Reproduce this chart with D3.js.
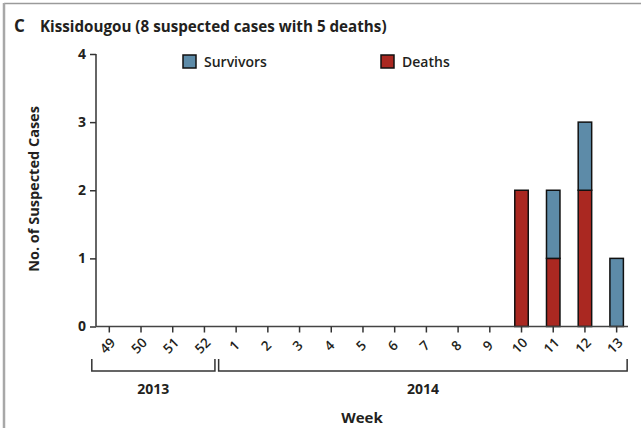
<!DOCTYPE html>
<html>
<head>
<meta charset="utf-8">
<script src="https://cdn.jsdelivr.net/npm/d3@7"></script>
<style>
  html, body { margin: 0; padding: 0; background: #fff; }
  svg { display: block; font-family: "Open Sans", "Noto Sans", sans-serif; }
</style>
</head>
<body>
<svg id="chart" width="641" height="428"></svg>
<script>
// Weekly suspected cases in Kissidougou, split by outcome
const weeks = ["49", "50", "51", "52", "1", "2", "3", "4", "5", "6", "7", "8", "9", "10", "11", "12", "13"];
const years = ["2013", "2013", "2013", "2013", "2014", "2014", "2014", "2014", "2014", "2014", "2014", "2014", "2014", "2014", "2014", "2014", "2014"];
const deaths    = [0, 0, 0, 0, 0, 0, 0, 0, 0, 0, 0, 0, 0, 2, 1, 2, 0];
const survivors = [0, 0, 0, 0, 0, 0, 0, 0, 0, 0, 0, 0, 0, 0, 1, 1, 1];
const seriesKeys = ["deaths", "survivors"];
const seriesNames = { survivors: "Survivors", deaths: "Deaths" };
const yTicks = [0, 1, 2, 3, 4];

const colors = { survivors: "#5d8ba8", deaths: "#aa2821" };
const ink = "#231f20";

const svg = d3.select("#chart");

// frame lines at top and left
svg.append("line").attr("x1", 4).attr("x2", 641).attr("y1", 3.5).attr("y2", 3.5)
  .attr("stroke", "#9a9a9a").attr("stroke-width", 1.5);
svg.append("line").attr("x1", 4).attr("x2", 4).attr("y1", 3).attr("y2", 428)
  .attr("stroke", "#a8a8a8").attr("stroke-width", 2.5);

// title
svg.append("text").attr("x", 14).attr("y", 32)
  .attr("font-size", 17).attr("font-weight", 700).attr("fill", ink).text("C");
svg.append("text").attr("x", 40).attr("y", 32)
  .attr("font-size", 15.2).attr("font-weight", 700).attr("fill", ink)
  .text("Kissidougou (8 suspected cases with 5 deaths)");

// scales
const x = d3.scaleBand().domain(weeks).range([93.45, 632.5])
  .paddingInner(0.575).paddingOuter(0.2875);
const y = d3.scaleLinear().domain([0, 4]).range([326.5, 54]);

const table = weeks.map((w, i) => ({ week: w, deaths: deaths[i], survivors: survivors[i] }));
const stacked = d3.stack().keys(seriesKeys)(table);

// bars
svg.append("g").selectAll("g").data(stacked).join("g")
  .attr("fill", d => colors[d.key])
  .selectAll("rect").data(d => d.filter(s => s[1] > s[0])).join("rect")
  .attr("x", d => x(d.data.week))
  .attr("width", x.bandwidth())
  .attr("y", d => y(d[1]))
  .attr("height", d => y(d[0]) - y(d[1]))
  .attr("stroke", "#111").attr("stroke-width", 1.5);

// y axis
const yAxis = svg.append("g").attr("transform", "translate(96,0)")
  .call(d3.axisLeft(y).tickValues(yTicks).tickFormat(d3.format("d")).tickSize(6).tickPadding(4));
yAxis.select(".domain").attr("d", `M0,${y(4)}V${y(0)}`).attr("stroke", "#333").attr("stroke-width", 1.5);
yAxis.selectAll(".tick line").attr("stroke", "#333").attr("stroke-width", 1.5);
yAxis.selectAll(".tick text").attr("font-size", 14).attr("font-weight", 700).attr("fill", ink)
  .attr("font-family", "'Open Sans', sans-serif");

// x axis
const xAxis = svg.append("g").attr("transform", `translate(0,${y(0)})`)
  .call(d3.axisBottom(x).tickSize(6).tickSizeOuter(0));
xAxis.select(".domain").attr("d", "M96,0H628").attr("stroke", "#444").attr("stroke-width", 1.5);
xAxis.selectAll(".tick line").attr("stroke", "#333").attr("stroke-width", 1.5);
xAxis.selectAll(".tick text")
  .attr("font-size", 13.5).attr("font-weight", 600).attr("fill", ink)
  .attr("font-family", "'Open Sans', sans-serif")
  .attr("text-anchor", "middle").attr("dy", null).attr("y", 0)
  .attr("transform", "translate(-2,19) rotate(-45)")
  .attr("dominant-baseline", "central");

// year brackets
const yearGroups = d3.groups(weeks.map((w, i) => ({ w, yr: years[i] })), d => d.yr);
const by = 371, bTop = 359;
yearGroups.forEach(([yr, list]) => {
  const x0 = x(list[0].w) + x.bandwidth() / 2 - 17.5;
  const x1 = x(list[list.length - 1].w) + x.bandwidth() / 2 + 10.5;
  svg.append("path")
    .attr("d", `M${x0},${bTop}V${by}H${x1}V${bTop}`)
    .attr("fill", "none").attr("stroke", "#333").attr("stroke-width", 1.5);
  svg.append("text").attr("x", (x0 + x1) / 2).attr("y", 394)
    .attr("text-anchor", "middle").attr("font-size", 14).attr("font-weight", 700)
    .attr("fill", ink).text(yr);
});

// axis titles
svg.append("text").attr("x", 362).attr("y", 423)
  .attr("text-anchor", "middle").attr("font-size", 15).attr("font-weight", 700)
  .attr("fill", ink).text("Week");
svg.append("text").attr("transform", "translate(39,189) rotate(-90)")
  .attr("text-anchor", "middle").attr("font-size", 14.5).attr("font-weight", 700)
  .attr("fill", ink).text("No. of Suspected Cases");

// legend
const legendItems = [
  { key: "survivors", x: 183 },
  { key: "deaths", x: 381 }
];
const lg = svg.append("g").selectAll("g").data(legendItems).join("g")
  .attr("transform", d => `translate(${d.x},55)`);
lg.append("rect").attr("width", 13).attr("height", 13)
  .attr("fill", d => colors[d.key]).attr("stroke", "#111").attr("stroke-width", 1.5);
lg.append("text").attr("x", 21).attr("y", 12)
  .attr("font-size", 14).attr("font-weight", 600).attr("fill", ink)
  .text(d => seriesNames[d.key]);
</script>
</body>
</html>
